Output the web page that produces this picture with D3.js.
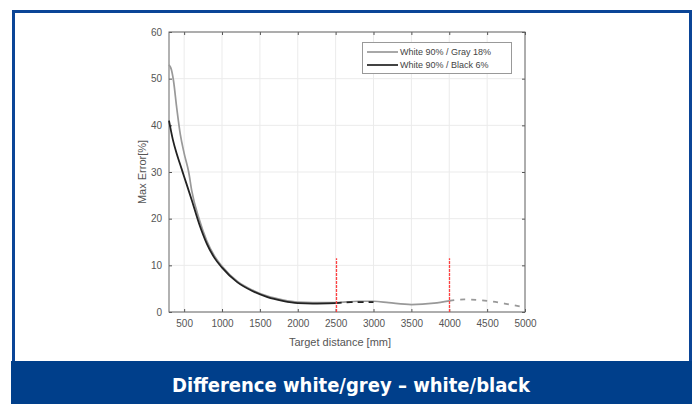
<!DOCTYPE html>
<html><head><meta charset="utf-8">
<script src="https://cdn.jsdelivr.net/npm/d3@7"></script>
<style>body{margin:0;background:#fff}svg{display:block}</style>
</head><body><svg id="c" width="696" height="404"></svg>
<script>
const xTicks=[500,1000,1500,2000,2500,3000,3500,4000,4500,5000];
const yTicks=[0,10,20,30,40,50,60];
const seriesNames=["White 90% / Gray 18%","White 90% / Black 6%"];
const grayX=[300,330,360,400,450,500,560,600,700,800,900,1000,1200,1400,1600,1800,2000,2200,2500,2800,3000,3200,3500,3800,4000];
const grayY=[53,52,49.5,44,38,34,30,26,19.8,15.2,12,9.8,6.6,4.7,3.4,2.6,2.1,2.0,2.0,2.3,2.3,2.0,1.6,1.9,2.4];
const grayDashX=[4000,4200,4500,4800,5000];
const grayDashY=[2.4,2.7,2.4,1.6,1.0];
const blackX=[300,350,400,450,500,600,700,800,900,1000,1200,1400,1600,1800,2000,2200,2500];
const blackY=[41,37,34,31.5,29,24,18.8,14.6,11.6,9.5,6.4,4.5,3.2,2.4,1.9,1.8,1.9];
const blackDashX=[2500,2700,3000];
const blackDashY=[1.9,2.1,2.1];
const markers=[2500,4000];
const markerTop=11.5;
const title="Difference white/grey – white/black";

const svg=d3.select("#c");
// frame
svg.append("rect").attr("x",13.5).attr("y",11.5).attr("width",677).attr("height",360).attr("fill","#fff").attr("stroke","#0b4597").attr("stroke-width",3);
svg.append("rect").attr("x",11).attr("y",361).attr("width",681).attr("height",43).attr("fill","#003f8b");
svg.append("text").attr("x",351).attr("y",392).attr("text-anchor","middle").attr("fill","#fff")
  .attr("font-family","'DejaVu Sans Condensed','Liberation Sans Narrow',sans-serif").attr("font-weight","bold").attr("font-size",20).text(title);

const L=169,R=525,T=32,B=312;
const x=d3.scaleLinear().domain([300,5000]).range([L,R]);
const y=d3.scaleLinear().domain([0,60]).range([B,T]);
const g=svg.append("g");
// grid
g.selectAll(".gx").data(xTicks).enter().append("line").attr("x1",d=>x(d)).attr("x2",d=>x(d)).attr("y1",T).attr("y2",B).attr("stroke","#ebebeb");
g.selectAll(".gy").data(yTicks).enter().append("line").attr("x1",L).attr("x2",R).attr("y1",d=>y(d)).attr("y2",d=>y(d)).attr("stroke","#ebebeb");
// axes
const font="'Liberation Sans',Arial,sans-serif";
const fmt=d3.format("d");
const ax=g.append("g").attr("transform",`translate(0,${B})`).call(d3.axisBottom(x).tickValues(xTicks).tickFormat(fmt).tickSizeInner(-3).tickSizeOuter(0).tickPadding(8));
const ay=g.append("g").attr("transform",`translate(${L},0)`).call(d3.axisLeft(y).tickValues(yTicks).tickFormat(fmt).tickSizeInner(-3).tickSizeOuter(0).tickPadding(7));
const at=g.append("g").attr("transform",`translate(0,${T})`).call(d3.axisTop(x).tickValues(xTicks).tickSizeInner(-3).tickSizeOuter(0).tickFormat(""));
const ar=g.append("g").attr("transform",`translate(${R},0)`).call(d3.axisRight(y).tickValues(yTicks).tickSizeInner(-3).tickSizeOuter(0).tickFormat(""));
[ax,ay,at,ar].forEach(a=>{a.selectAll("path").attr("stroke","#555");a.selectAll("line").attr("stroke","#555");a.selectAll("text").attr("fill","#555").attr("font-size",10).attr("font-family",font);});
ax.select(".domain").remove();ay.select(".domain").remove();at.select(".domain").remove();ar.select(".domain").remove();
g.append("rect").attr("x",L).attr("y",T).attr("width",R-L).attr("height",B-T).attr("fill","none").attr("stroke","#666").attr("stroke-width",1);

const line=d3.line().x(d=>x(d[0])).y(d=>y(d[1])).curve(d3.curveMonotoneX);
const zip=(a,b)=>a.map((v,i)=>[v,b[i]]);
g.append("path").attr("d",line(zip(grayX,grayY))).attr("fill","none").attr("stroke","#999").attr("stroke-width",1.7);
g.append("path").attr("d",line(zip(grayDashX,grayDashY))).attr("fill","none").attr("stroke","#999").attr("stroke-width",1.8).attr("stroke-dasharray","5,6");
g.append("path").attr("d",line(zip(blackX,blackY))).attr("fill","none").attr("stroke","#222").attr("stroke-width",1.8);
g.append("path").attr("d",line(zip(blackDashX,blackDashY))).attr("fill","none").attr("stroke","#222").attr("stroke-width",1.8).attr("stroke-dasharray","6,5");
g.selectAll(".mk").data(markers).enter().append("line").attr("x1",d=>Math.round(x(d))+0.5).attr("x2",d=>Math.round(x(d))+0.5).attr("y1",y(0)).attr("y2",y(markerTop)).attr("stroke","#ff4040").attr("stroke-width",1.3).attr("stroke-dasharray","3,1");

// labels
svg.append("text").attr("x",340).attr("y",346).attr("text-anchor","middle").attr("fill","#555").attr("font-size",11).attr("font-family",font).text("Target distance [mm]");
svg.append("text").attr("transform","translate(146,172) rotate(-90)").attr("text-anchor","middle").attr("fill","#555").attr("font-size",11).attr("font-family",font).text("Max Error[%]");

// legend
const lg=svg.append("g");
lg.append("rect").attr("x",362.5).attr("y",42.5).attr("width",149).attr("height",31).attr("fill","#fff").attr("stroke","#999");
const lc=["#999","#222"];
seriesNames.forEach((n,i)=>{
  const yy=52+i*13;
  lg.append("line").attr("x1",367).attr("x2",398).attr("y1",yy).attr("y2",yy).attr("stroke",lc[i]).attr("stroke-width",1.7);
  lg.append("text").attr("x",400).attr("y",yy+3).attr("font-size",9).attr("fill","#444").attr("font-family",font).text(n);
});
</script></body></html>
